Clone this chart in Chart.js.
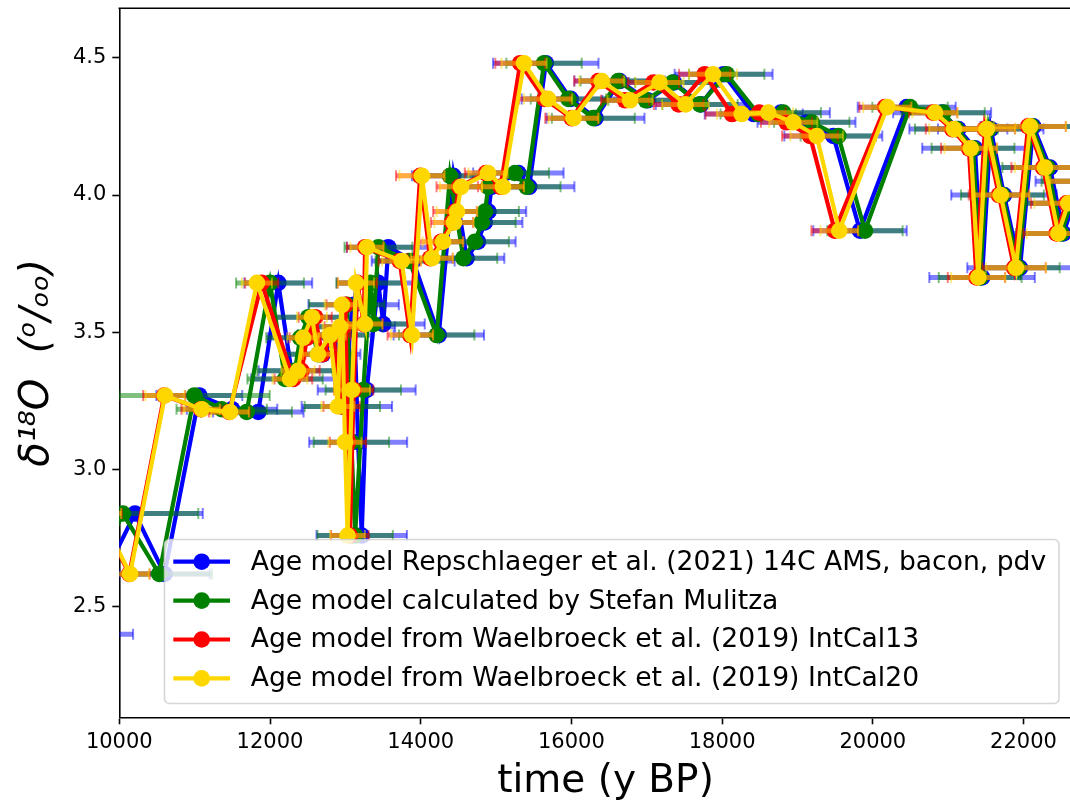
<!DOCTYPE html>
<html>
<head>
<meta charset="utf-8">
<script src="https://cdn.jsdelivr.net/npm/chart.js@4.4.1/dist/chart.umd.min.js"></script>
<style>
  html, body { margin: 0; padding: 0; background: #fff; overflow: hidden; }
  #wrap { position: relative; width: 1100px; height: 805px; }
</style>
</head>
<body>
<div id="wrap"><canvas id="d18oChart" width="1100" height="805"></canvas></div>
<script>
// delta 18O values, one per sample (depth order), shared by all age models
const d18O = [2.40, 2.84, 2.62, 3.27, 3.22, 3.21, 3.68, 3.33, 3.36, 3.48,
  3.555, 3.42, 3.49, 3.23, 3.52, 3.60, 3.10, 2.76, 3.29, 3.68,
  3.53, 3.81, 3.76, 3.49, 4.07, 3.77, 3.83, 3.90, 3.94, 4.03,
  4.08, 4.03, 4.48, 4.35, 4.28, 4.415, 4.345, 4.41, 4.33, 4.44,
  4.295, 4.30, 4.265, 4.215, 3.87, 4.32, 4.30, 4.24, 4.17, 3.70,
  4.24, 4.00, 3.735, 4.25, 4.10, 3.86, 3.97, 4.05];

// ages (y BP) and age uncertainties for each age model
const ageRepschlaeger = [9413, 10208, 10600, 11062, 11496, 11845, 12110, 12300, 12400, 12470,
  12560, 12700, 12870, 13020, 13060, 13110, 13170, 13217, 13283, 13437,
  13504, 13570, 13900, 14240, 14433, 14610, 14760, 14850, 14900, 14940,
  15296, 15440, 15660, 15990, 16320, 16640, 17010, 17360, 17720, 18020,
  18420, 18780, 19120, 19476, 19830, 20450, 20920, 21135, 21356, 21450,
  21565, 21741, 21954, 22130, 22352, 22530, 22660, 22860];
const errRepschlaeger = [770, 900, 600, 570, 600, 600, 450, 550, 550, 500,
  500, 500, 500, 600, 600, 600, 650, 600, 650, 550,
  550, 550, 550, 600, 550, 500, 500, 500, 500, 520,
  600, 600, 700, 650, 650, 600, 600, 600, 600, 650,
  650, 650, 650, 650, 620, 650, 650, 650, 700, 700,
  700, 700, 700, 700, 700, 700, 700, 700];

const ageMulitza = [9300, 10048, 10530, 10996, 11359, 11691, 12000, 12200, 12330, 12400,
  12508, 12640, 12820, 12960, 12990, 13020, 13080, 13130, 13238, 13330,
  13370, 13439, 13850, 14212, 14389, 14566, 14720, 14810, 14853, 14897,
  15252, 15406, 15637, 15960, 16291, 16622, 16990, 17345, 17707, 18061,
  18480, 18812, 19190, 19542, 19896, 20494, 20936, 21110, 21330, 21425,
  21540, 21720, 21930, 22110, 22320, 22500, 22630, 22840];
const errMulitza = [600, 1000, 700, 1000, 600, 600, 450, 500, 500, 450,
  450, 450, 450, 500, 500, 500, 500, 500, 500, 450,
  450, 450, 450, 500, 480, 450, 450, 450, 450, 450,
  450, 450, 500, 500, 550, 500, 500, 500, 500, 500,
  500, 500, 500, 500, 500, 500, 550, 550, 550, 550,
  550, 550, 550, 600, 600, 600, 600, 600];

const ageIntCal13 = [8990, 9734, 10133, 10596, 11084, 11459, 11890, 12310, 12420, 12490,
  12600, 12690, 12840, 12950, 12975, 13000, 13035, 13060, 13110, 13160,
  13245, 13262, 13720, 13860, 13992, 14125, 14270, 14415, 14455, 14510,
  14865, 15060, 15320, 15645, 16003, 16357, 16713, 17089, 17424, 17769,
  18130, 18493, 18855, 19166, 19495, 20162, 20800, 21053, 21275, 21375,
  21487, 21673, 21875, 22061, 22260, 22437, 22569, 22775];
const errIntCal13 = [320, 300, 270, 280, 260, 270, 220, 250, 240, 230,
  220, 220, 230, 240, 250, 250, 240, 250, 260, 260,
  250, 240, 280, 300, 320, 300, 290, 280, 290, 300,
  280, 300, 330, 340, 350, 320, 320, 340, 330, 340,
  350, 350, 340, 370, 310, 340, 320, 350, 370, 380,
  400, 400, 420, 500, 420, 440, 470, 470];

const ageIntCal20 = [9000, 9744, 10143, 10606, 11094, 11469, 11826, 12265, 12371, 12438,
  12557, 12637, 12796, 12902, 12929, 12955, 12995, 13029, 13088, 13141,
  13261, 13287, 13748, 13885, 14017, 14150, 14296, 14442, 14481, 14535,
  14893, 15092, 15371, 15690, 16028, 16402, 16778, 17169, 17514, 17879,
  18260, 18613, 18945, 19256, 19555, 20192, 20826, 21078, 21300, 21400,
  21512, 21698, 21900, 22086, 22285, 22462, 22594, 22800];
const errIntCal20 = [300, 280, 250, 260, 240, 250, 200, 230, 220, 210,
  200, 200, 210, 220, 230, 230, 220, 230, 240, 240,
  230, 220, 260, 280, 300, 280, 270, 260, 270, 280,
  260, 280, 300, 320, 330, 300, 300, 320, 310, 320,
  330, 330, 320, 350, 250, 320, 300, 330, 350, 360,
  380, 380, 400, 480, 400, 420, 450, 450];

const xTicks = [10000, 12000, 14000, 16000, 18000, 20000, 22000];
const yTicks = [2.5, 3.0, 3.5, 4.0, 4.5];

const SERIES = [
  { label: "Age model Repschlaeger et al. (2021) 14C AMS, bacon, pdv", ages: ageRepschlaeger, errs: errRepschlaeger, color: "#0000ff", errColor: "rgba(0, 0, 255, 0.5)" },
  { label: "Age model calculated by Stefan Mulitza", ages: ageMulitza, errs: errMulitza, color: "#008000", errColor: "rgba(0, 128, 0, 0.5)" },
  { label: "Age model from Waelbroeck et al. (2019) IntCal13", ages: ageIntCal13, errs: errIntCal13, color: "#ff0000", errColor: "rgba(255, 0, 0, 0.5)" },
  { label: "Age model from Waelbroeck et al. (2019) IntCal20", ages: ageIntCal20, errs: errIntCal20, color: "#ffd700", errColor: "rgba(255, 215, 0, 0.5)" },
];

const FONT = "'DejaVu Sans', sans-serif";
Chart.defaults.font.family = FONT;

// horizontal age error bars, drawn just before each series so later series sit on top
const errorBars = {
  id: "errorBars",
  beforeDatasetDraw(chart, args) {
    const s = SERIES[args.index];
    const { ctx, chartArea } = chart;
    const xs = chart.scales.x;
    const ys = chart.scales.y;
    ctx.save();
    ctx.beginPath();
    ctx.rect(chartArea.left, chartArea.top, chartArea.right - chartArea.left, chartArea.bottom - chartArea.top);
    ctx.clip();
    ctx.strokeStyle = s.errColor;
    s.ages.forEach((age, i) => {
      const y = ys.getPixelForValue(d18O[i]);
      const x0 = xs.getPixelForValue(age - s.errs[i]);
      const x1 = xs.getPixelForValue(age + s.errs[i]);
      ctx.lineWidth = 5;
      ctx.beginPath();
      ctx.moveTo(x0, y);
      ctx.lineTo(x1, y);
      ctx.stroke();
      ctx.lineWidth = 2;
      [x0, x1].forEach((x) => {
        ctx.beginPath();
        ctx.moveTo(x, y - 5.5);
        ctx.lineTo(x, y + 5.5);
        ctx.stroke();
      });
    });
    ctx.restore();
  },
};

// top spine + boxed legend inside the axes
const frameAndLegend = {
  id: "frameAndLegend",
  afterDraw(chart) {
    const { ctx, chartArea } = chart;
    ctx.save();
    ctx.strokeStyle = "#000";
    ctx.lineWidth = 1.6;
    ctx.beginPath();
    ctx.moveTo(chartArea.left - 0.8, chartArea.top);
    ctx.lineTo(chartArea.right, chartArea.top);
    ctx.stroke();

    const bx = 164.5, by = 539.5, bw = 894.5, bh = 164;
    ctx.beginPath();
    ctx.roundRect(bx, by, bw, bh, 5);
    ctx.fillStyle = "rgba(255, 255, 255, 0.8)";
    ctx.fill();
    ctx.strokeStyle = "rgba(204, 204, 204, 0.8)";
    ctx.lineWidth = 1.6;
    ctx.stroke();

    ctx.font = `26.6px ${FONT}`;
    ctx.textBaseline = "middle";
    ctx.textAlign = "left";
    SERIES.forEach((s, i) => {
      const y = 561.7 + i * 38.9;
      ctx.strokeStyle = s.color;
      ctx.lineWidth = 4.2;
      ctx.beginPath();
      ctx.moveTo(173.3, y);
      ctx.lineTo(230, y);
      ctx.stroke();
      ctx.fillStyle = s.color;
      ctx.beginPath();
      ctx.arc(201.7, y, 8.3, 0, Math.PI * 2);
      ctx.fill();
      ctx.fillStyle = "#000";
      ctx.fillText(s.label, 250.7, y + 1);
    });
    ctx.restore();
  },
};

const datasets = SERIES.map((s, k) => ({
  label: s.label,
  data: s.ages.map((age, i) => ({ x: age, y: d18O[i] })),
  borderColor: s.color,
  backgroundColor: s.color,
  borderWidth: 4.2,
  pointRadius: 8.3,
  pointBackgroundColor: s.color,
  pointBorderWidth: 0,
  tension: 0,
  clip: 0,
  order: SERIES.length - k,
}));

new Chart(document.getElementById("d18oChart"), {
  type: "line",
  data: { datasets },
  options: {
    responsive: false,
    devicePixelRatio: 1,
    animation: false,
    events: [],
    layout: { padding: { top: 6.3, left: 0, right: 0, bottom: 0 } },
    plugins: { legend: { display: false }, tooltip: { enabled: false } },
    scales: {
      x: {
        type: "linear",
        min: 10000,
        max: 22905,
        afterBuildTicks: (scale) => { scale.ticks = xTicks.map((value) => ({ value })); },
        afterFit: (scale) => { scale.height = 87.7; scale.paddingLeft = 0; scale.paddingRight = 0; },
        ticks: { font: { size: 21 }, color: "#000", padding: 6, maxRotation: 0, autoSkip: false, callback: (v) => String(v) },
        grid: { drawOnChartArea: false, tickLength: 7, tickColor: "#000", tickWidth: 1.6 },
        border: { color: "#000", width: 1.6 },
        title: { display: true, text: "time (y BP)", font: { size: 39 }, color: "#000", padding: { top: 0, bottom: 0 } },
      },
      y: {
        type: "linear",
        min: 2.098,
        max: 4.68,
        afterBuildTicks: (scale) => { scale.ticks = yTicks.map((value) => ({ value })); },
        afterFit: (scale) => { scale.width = 119.3; scale.paddingTop = 0; scale.paddingBottom = 0; },
        ticks: { font: { size: 21 }, color: "#000", padding: 6, callback: (v) => v.toFixed(1) },
        grid: { drawOnChartArea: false, tickLength: 7, tickColor: "#000", tickWidth: 1.6 },
        border: { color: "#000", width: 1.6 },
        title: { display: true, text: "δ¹⁸O  (ᵒ/ₒₒ)", font: { size: 40, style: "italic" }, color: "#000", padding: { top: 14, bottom: 0 } },
      },
    },
  },
  plugins: [errorBars, frameAndLegend],
});
</script>
</body>
</html>
